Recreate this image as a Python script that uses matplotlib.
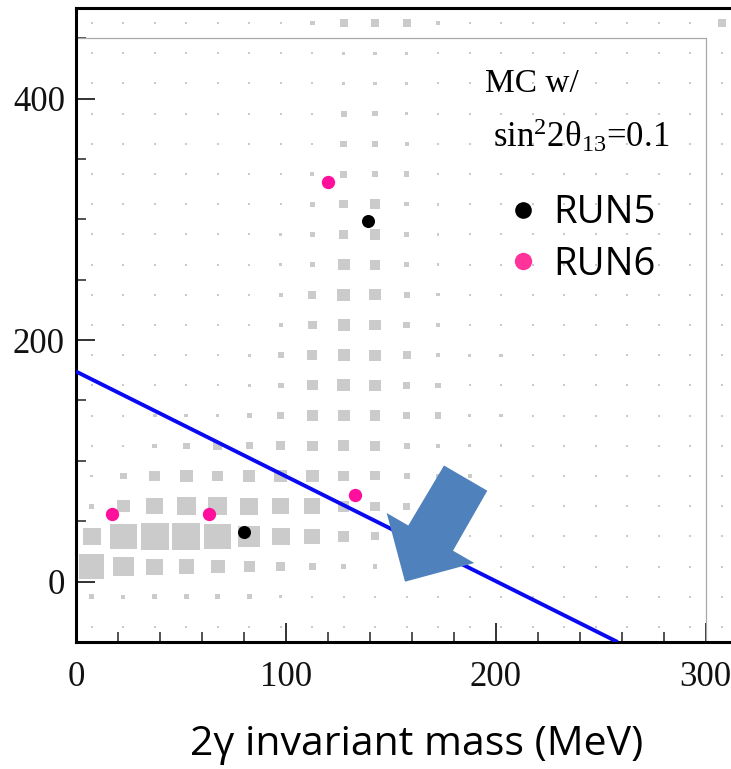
import numpy as np
import matplotlib
matplotlib.use("Agg")
import matplotlib.pyplot as plt
from matplotlib.patches import Rectangle, Polygon
from matplotlib.collections import PatchCollection
from matplotlib.lines import Line2D
from matplotlib.ticker import MultipleLocator

plt.rcParams['mathtext.fontset'] = 'custom'
plt.rcParams['mathtext.rm'] = 'Liberation Serif'
plt.rcParams['mathtext.it'] = 'Liberation Serif:italic'

# MC histogram: bins of 15 MeV in x, 25 in y
x_edges = np.arange(0, 316, 15)          # 0 .. 315
y_centers = np.arange(462.5, -50, -25)   # top row first

# box size (relative counts), rows from top (462.5) to bottom (-37.5)
mc_counts = np.array([
    [3, 3, 3, 3, 3, 3, 3, 14, 24, 24, 24, 10, 3, 3, 3, 3, 3, 3, 3, 3, 24],
    [3, 3, 3, 3, 3, 3, 3, 4, 10, 10, 10, 4, 3, 3, 3, 3, 3, 3, 3, 3, 3],
    [3, 3, 3, 3, 3, 3, 3, 6, 10, 12, 10, 4, 3, 3, 3, 3, 3, 3, 3, 3, 3],
    [3, 3, 3, 3, 3, 3, 3, 6, 18, 16, 10, 4, 3, 3, 3, 3, 3, 3, 3, 3, 3],
    [3, 3, 3, 3, 3, 3, 3, 6, 20, 18, 12, 6, 3, 3, 3, 3, 3, 3, 3, 3, 3],
    [3, 3, 3, 3, 3, 3, 3, 12, 22, 18, 16, 8, 3, 3, 3, 3, 3, 3, 3, 3, 3],
    [3, 3, 3, 3, 3, 3, 6, 16, 26, 30, 14, 8, 3, 3, 3, 3, 3, 3, 3, 3, 3],
    [3, 3, 3, 3, 3, 4, 8, 16, 28, 32, 16, 8, 4, 3, 3, 3, 3, 3, 3, 3, 3],
    [3, 3, 3, 3, 3, 6, 8, 16, 36, 32, 16, 8, 4, 3, 3, 3, 3, 3, 3, 3, 3],
    [3, 3, 3, 3, 3, 4, 12, 24, 38, 34, 18, 10, 4, 3, 3, 3, 3, 3, 3, 3, 3],
    [3, 3, 3, 3, 4, 6, 12, 26, 36, 34, 20, 10, 6, 3, 3, 3, 3, 3, 3, 3, 3],
    [4, 3, 3, 3, 5, 10, 18, 30, 36, 34, 24, 12, 10, 10, 3, 3, 3, 3, 3, 3, 3],
    [3, 3, 3, 3, 4, 10, 18, 32, 38, 34, 22, 16, 6, 6, 3, 3, 3, 3, 3, 3, 3],
    [3, 3, 12, 12, 10, 14, 22, 32, 36, 32, 22, 20, 10, 10, 3, 3, 3, 3, 3, 3, 3],
    [5, 5, 14, 20, 26, 22, 28, 32, 34, 30, 18, 14, 10, 8, 3, 3, 3, 3, 3, 3, 3],
    [8, 20, 32, 38, 34, 36, 38, 40, 34, 28, 18, 14, 12, 8, 4, 3, 3, 3, 3, 3, 3],
    [16, 38, 50, 58, 58, 54, 52, 48, 34, 28, 22, 14, 8, 6, 3, 3, 3, 3, 3, 3, 3],
    [54, 80, 84, 84, 80, 66, 54, 48, 34, 24, 14, 8, 4, 3, 3, 3, 3, 3, 3, 3, 3],
    [76, 62, 50, 46, 42, 34, 26, 22, 16, 14, 8, 5, 3, 3, 3, 3, 3, 3, 3, 3, 3],
    [16, 12, 14, 16, 14, 14, 10, 6, 4, 4, 3, 3, 3, 3, 3, 3, 3, 3, 3, 3, 3],
    [4, 4, 4, 4, 4, 4, 4, 4, 3, 3, 3, 3, 3, 3, 3, 3, 3, 3, 3, 3, 3],
])

# data events
run5_x = [80, 139]
run5_y = [41, 299]
run6_x = [17, 63.5, 120, 133]
run6_y = [56, 56, 331, 71.5]

# selection cut line
cut_x = [0, 258]
cut_y = [174, -50]

W, H = 731, 769
fig = plt.figure(figsize=(W / 100, H / 100), dpi=100)
ax = fig.add_axes([76 / W, 127 / H, 655 / W, 634 / H])
ax.set_xlim(0, 312)
ax.set_ylim(-50, 475)

# boxes (ROOT "box" style), tiny bins still show as a dot
bw, bh = 15, 25
x_centers = x_edges[:-1] + bw / 2
frac = np.maximum(mc_counts / mc_counts.max() * 0.89, 0.065)
boxes = []
for i, yc in enumerate(y_centers):
    for j, xc in enumerate(x_centers):
        w = frac[i, j] * bw
        h = frac[i, j] * bh
        boxes.append(Rectangle((xc - w / 2, yc - h / 2), w, h))
ax.add_collection(PatchCollection(boxes, facecolor='#cbcbcb', edgecolor='none', zorder=1))

# inner pad frame
ax.plot([0, 300, 300], [450, 450, -50], color='#a8a8a8', lw=0.9, zorder=2)

ax.plot(cut_x, cut_y, color='#0a0af0', lw=2.8, zorder=3, solid_capstyle='butt')

ax.plot(run6_x, run6_y, 'o', color='#ff109c', ms=9.6, mec='none', zorder=4)
ax.plot(run5_x, run5_y, 'o', color='black', ms=9.4, mec='none', zorder=4)

# axes style
for s in ['left', 'top', 'bottom']:
    ax.spines[s].set_linewidth(2.2)
ax.spines['right'].set_visible(False)
ax.xaxis.set_major_locator(MultipleLocator(100))
ax.xaxis.set_minor_locator(MultipleLocator(20))
ax.yaxis.set_major_locator(MultipleLocator(200))
ax.yaxis.set_minor_locator(MultipleLocator(50))
ax.tick_params(which='major', direction='in', length=14, width=1.3, color='#222222')
ax.tick_params(which='minor', direction='in', length=7, width=1.1, color='#222222')
ax.tick_params(axis='x', which='both', top=False)
ax.tick_params(axis='y', which='both', right=False)
ax.tick_params(axis='x', pad=14)
ax.tick_params(axis='y', pad=8)
for lab in ax.get_xticklabels() + ax.get_yticklabels():
    lab.set_fontfamily('Liberation Serif')
    lab.set_fontsize(25)
    lab.set_color('#111111')

fig.text(485 / W, 1 - 92 / H, 'MC w/', fontsize=24, family='Liberation Serif', va='baseline')
fig.text(493 / W, 1 - 147 / H, r'sin$^{2}$2θ$_{13}$=0.1', fontsize=25,
         family='Liberation Serif', va='baseline')

handles = [Line2D([], [], ls='none', marker='o', color='black', ms=12, mec='none'),
           Line2D([], [], ls='none', marker='o', color='#ff3399', ms=12.5, mec='none')]
fig.legend(handles, ['RUN5', 'RUN6'], loc='upper left', bbox_to_anchor=(510 / W, 1 - 194 / H),
           frameon=False, prop={'family': 'Open Sans', 'size': 27.5}, handlelength=0.7,
           handletextpad=0.42, labelspacing=0.36, borderpad=0, borderaxespad=0)

fig.text(417 / W, 1 - 755 / H, '2γ invariant mass (MeV)', fontsize=29.5, family='Open Sans',
         ha='center', va='baseline')

# big arrow pointing at the cut line (figure pixel vertices)
arrow_px = [(405, 581.7), (386.7, 513), (408.3, 525.5), (444, 465.5),
            (487.3, 490.7), (453, 550.7), (474.3, 563)]
arrow = Polygon([(x / W, 1 - y / H) for x, y in arrow_px], closed=True,
                transform=fig.transFigure, facecolor='#4f81bd', edgecolor='none', zorder=10)
fig.add_artist(arrow)

fig.savefig('out.png', dpi=100)
